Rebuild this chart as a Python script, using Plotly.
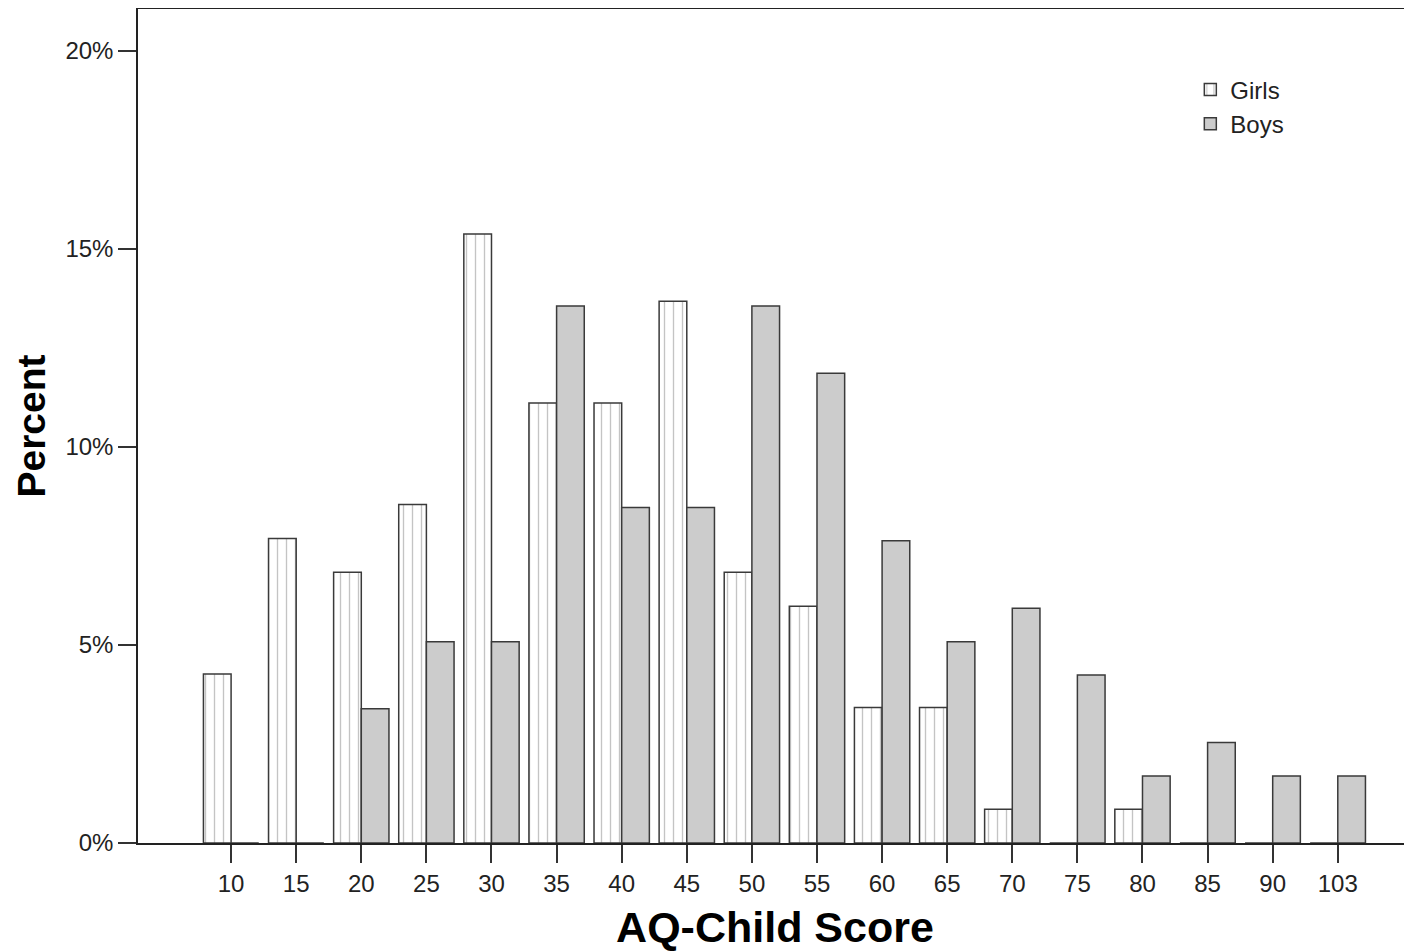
import plotly.graph_objects as go

categories = ["10", "15", "20", "25", "30", "35", "40", "45", "50", "55",
              "60", "65", "70", "75", "80", "85", "90", "103"]
girls_pct = [4.27, 7.69, 6.84, 8.55, 15.38, 11.11, 11.11, 13.68, 6.84, 5.98,
             3.42, 3.42, 0.85, 0.0, 0.85, 0.0, 0.0, 0.0]
boys_pct = [0.0, 0.0, 3.39, 5.08, 5.08, 13.56, 8.47, 8.47, 13.56, 11.86,
            7.63, 5.08, 5.93, 4.24, 1.69, 2.54, 1.69, 1.69]
y_ticks = [0, 5, 10, 15, 20]
y_tick_labels = ["0%", "5%", "10%", "15%", "20%"]

FONT = "Liberation Sans, Arial, sans-serif"

fig = go.Figure()
fig.add_trace(go.Bar(
    x=categories, y=girls_pct, name="Girls",
    marker=dict(color="white", line=dict(color="#3a3a3a", width=1.5),
                pattern=dict(shape="|", fgcolor="#8a8a8a", bgcolor="white",
                             size=9, solidity=0.15)),
))
fig.add_trace(go.Bar(
    x=categories, y=boys_pct, name="Boys",
    marker=dict(color="#cccccc", line=dict(color="#3a3a3a", width=1.5)),
))

fig.update_layout(
    width=1404, height=943,
    barmode="group", bargap=0.15, bargroupgap=0,
    plot_bgcolor="white", paper_bgcolor="white",
    margin=dict(l=130, r=0, t=1, b=108),
    font=dict(family=FONT, color="#222"),
    showlegend=True,
    legend=dict(x=0.826, y=0.93, xanchor="left", yanchor="top",
                font=dict(size=24, family=FONT, color="#222"),
                bgcolor="rgba(0,0,0,0)", tracegroupgap=2, itemwidth=30),
)
fig.update_xaxes(
    type="category", range=[-1.43, 18.14],
    showline=True, linecolor="#222", linewidth=1.5, mirror=True,
    ticks="outside", ticklen=18, tickwidth=1.5, tickcolor="#333",
    tickfont=dict(size=24, family=FONT, color="#222"),
    showgrid=False, zeroline=False,
    title=dict(text="<b>AQ-Child Score</b>", font=dict(size=43, family=FONT, color="#000"),
               standoff=16),
)
fig.update_yaxes(
    range=[0, 21.06],
    tickvals=y_ticks, ticktext=y_tick_labels,
    showline=True, linecolor="#222", linewidth=1.5,
    ticks="outside", ticklen=18, tickwidth=1.5, tickcolor="#333",
    tickfont=dict(size=24, family=FONT, color="#222"),
    showgrid=False, zeroline=False,
    title=dict(text="<b>Percent</b>", font=dict(size=39, family=FONT, color="#000"),
               standoff=8),
)

fig.write_html("out.html")
